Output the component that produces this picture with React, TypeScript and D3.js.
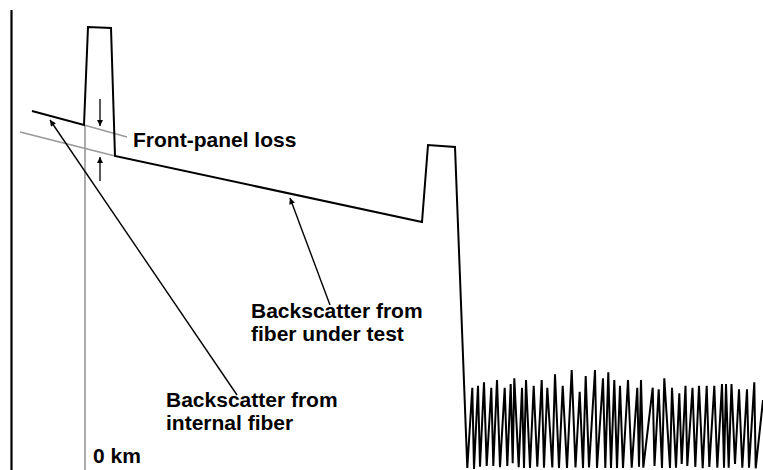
import React from "react";
import * as d3 from "d3";

const W = 763;
const H = 470;

// Distance along the OTDR trace (0 = front connector, "0 km") and level above the floor.
const traceDistance = [-53, -1, 3, 26, 30, 337, 343, 370];
const traceLevel = [359, 345, 443, 442, 314, 248, 325, 323];

// Noise beyond the fiber end reflection.
const noiseDistance = [
  382.3, 387.3, 389, 393, 395, 399, 401.7, 406.3, 408.3, 412, 415, 419.7, 422.3, 425.7,
  427.7, 429.3, 433.7, 437, 439, 441, 445, 448.7, 452.3, 456.7, 459, 462.3, 467.3, 470,
  474, 477.7, 482, 486.7, 490.5, 494.7, 498, 500.7, 504, 510, 512, 518, 520.3, 523.3,
  526, 529.3, 532, 535, 538, 543, 546.7, 552.3, 554, 556, 558.3, 567.7, 569.5, 573.7,
  577, 579.3, 585, 587, 591, 594.3, 596.7, 600.5, 602.3, 607.5, 610.3, 614, 617.7,
  621.7, 624.3, 629.3, 632.3, 637, 639, 641, 643.7, 646.5, 650, 654, 657.3, 662, 664,
  669.3, 670.7, 678,
];
const noiseLevel = [
  2, 82.3, 1, 84.3, 3.3, 87.7, 4, 82.3, 4, 90, 2.7, 82.3, 4, 86,
  6.7, 91.7, 2.7, 82.3, 2, 90, 2, 84.3, 3.3, 90, 2.3, 82.3, 2.5, 95.7,
  2, 84.3, 2, 100, 2.5, 78.3, 2, 94, 2.5, 100, 2, 91.7, 2, 97.7,
  2, 90, 2, 84.3, 2, 90, 2.3, 82.3, 3.3, 90, 2.3, 82.3, 4, 80.7,
  2, 91.7, 2, 82.3, 2.3, 76.7, 6, 84.3, 4, 82.3, 3, 84.3, 1.7,
  84.3, 3, 84.3, 2.3, 86, 2.3, 86, 2.3, 86, 6, 80.7, 2.3, 80.7, 2.3,
  87.7, 1.7, 70,
];

// Extrapolated backscatter slopes (grey) and the 0 km marker.
const internalExtDistance = [-1, 42];
const internalExtLevel = [345, 333];
const fiberExtDistance = [-65, 30];
const fiberExtLevel = [338, 314];
const zeroKmDistance = [0, 0];
const zeroKmLevel = [345, 0];

// Vertical axis.
const axisDistance = [-73.5, -73.5];
const axisLevel = [460, 0];

// Front-panel loss arrows: [from level, to level] at one distance.
const lossArrowDistance = 15;
const lossArrowFrom = [371, 289];
const lossArrowTo = [344, 313];

// Label leader lines: start near the label, end at the pointed feature.
const leaderFromDistance = [152, 245];
const leaderFromLevel = [75, 165];
const leaderToDistance = [-35, 205];
const leaderToLevel = [350, 272];

// Labels.
const labelLines = [
  ["Front-panel loss"],
  ["Backscatter from", "fiber under test"],
  ["Backscatter from", "internal fiber"],
  ["0 km"],
];
const labelDistance = [48, 166, 81, 8];
const labelLevel = [323, 152, 63, 7];

export default function App() {
  const x = d3.scaleLinear().domain([-85, 678]).range([0, W]);
  const y = d3.scaleLinear().domain([0, H]).range([H, 0]);
  const line = d3
    .line<[number, number]>()
    .x((d) => x(d[0]))
    .y((d) => y(d[1]));

  const zip = (a: number[], b: number[]) => a.map((v, i) => [v, b[i]] as [number, number]);

  const trace = zip(traceDistance, traceLevel).concat(zip(noiseDistance, noiseLevel));
  const font = "'Liberation Sans', Arial, Helvetica, sans-serif";

  return (
    <svg
      width={W}
      height={H}
      style={{ position: "absolute", left: 0, top: 0, background: "#fff" }}
    >
      <defs>
        <marker
          id="head"
          viewBox="0 0 10 10"
          refX="10"
          refY="5"
          markerWidth="9"
          markerHeight="6"
          markerUnits="userSpaceOnUse"
          orient="auto"
        >
          <path d="M0,0 L10,5 L0,10 z" fill="#000" />
        </marker>
      </defs>
      <rect width={W} height={H} fill="#fff" />

      {/* axis */}
      <path d={line(zip(axisDistance, axisLevel)) || ""} stroke="#000" strokeWidth={2.2} fill="none" />

      {/* grey reference lines */}
      <g stroke="#999" strokeWidth={1.6} fill="none">
        <path d={line(zip(zeroKmDistance, zeroKmLevel)) || ""} />
        <path d={line(zip(internalExtDistance, internalExtLevel)) || ""} />
        <path d={line(zip(fiberExtDistance, fiberExtLevel)) || ""} />
      </g>

      {/* OTDR trace */}
      <path
        d={line(trace) || ""}
        stroke="#000"
        strokeWidth={2}
        fill="none"
        strokeLinejoin="miter"
        strokeMiterlimit={10}
      />

      {/* front-panel loss arrows */}
      <g stroke="#000" strokeWidth={1.3}>
        {lossArrowFrom.map((f, i) => (
          <line
            key={i}
            x1={x(lossArrowDistance)}
            y1={y(f)}
            x2={x(lossArrowDistance)}
            y2={y(lossArrowTo[i])}
            markerEnd="url(#head)"
          />
        ))}
      </g>

      {/* leaders */}
      <g stroke="#000" strokeWidth={1.4}>
        {leaderFromDistance.map((d, i) => (
          <line
            key={i}
            x1={x(d)}
            y1={y(leaderFromLevel[i])}
            x2={x(leaderToDistance[i])}
            y2={y(leaderToLevel[i])}
            markerEnd="url(#head)"
          />
        ))}
      </g>

      {/* labels */}
      <g fontFamily={font} fontWeight="bold" fontSize={21} fill="#000">
        {labelLines.map((lines, i) =>
          lines.map((t, j) => (
            <text key={`${i}-${j}`} x={x(labelDistance[i])} y={y(labelLevel[i]) + j * 23}>
              {t}
            </text>
          ))
        )}
      </g>
    </svg>
  );
}
